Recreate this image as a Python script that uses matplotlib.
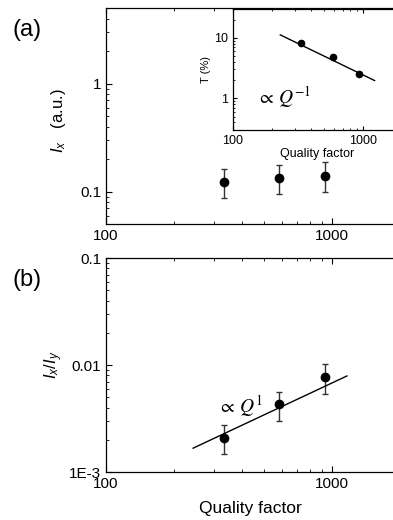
import matplotlib
matplotlib.use('Agg')
import matplotlib.pyplot as plt
from matplotlib.ticker import FixedLocator, FixedFormatter, LogLocator, NullFormatter

plt.rcParams['font.family'] = ['Liberation Sans', 'DejaVu Sans']
plt.rcParams['mathtext.fontset'] = 'custom'
plt.rcParams['mathtext.rm'] = 'Liberation Sans'
plt.rcParams['mathtext.it'] = 'Liberation Sans:italic'

# data
quality = [333, 583, 930]
intensity_x = [0.124, 0.135, 0.14]
intensity_lo = [0.088, 0.096, 0.100]
intensity_hi = [0.163, 0.178, 0.186]

ratio = [0.00208, 0.00433, 0.0077]
ratio_lo = [0.00148, 0.0030, 0.0054]
ratio_hi = [0.00275, 0.0056, 0.0102]
fit_q = [243, 1165]
fit_ratio = [0.00167, 0.0079]

trans = [8.3, 4.9, 2.5]
fit_q_inset = [231, 1230]
fit_trans = [11.2, 1.97]


def style_log_axis(ax, fs, major_len=4, minor_len=2):
    ax.set_xscale('log')
    ax.set_yscale('log')
    ax.tick_params(which='both', direction='in', top=True, right=True, labelsize=fs)
    ax.tick_params(which='major', length=major_len, width=0.8)
    ax.tick_params(which='minor', length=minor_len, width=0.6)
    ax.xaxis.set_minor_locator(LogLocator(base=10, subs=range(2, 10)))
    ax.yaxis.set_minor_locator(LogLocator(base=10, subs=range(2, 10)))
    ax.xaxis.set_minor_formatter(NullFormatter())
    ax.yaxis.set_minor_formatter(NullFormatter())
    ax.xaxis.set_major_locator(FixedLocator([100, 1000]))
    ax.xaxis.set_major_formatter(FixedFormatter(['100', '1000']))
    for s in ax.spines.values():
        s.set_linewidth(0.9)


fig = plt.figure(figsize=(3.93, 5.2), dpi=100)

# panel (a)
ax1 = fig.add_axes([0.2697, 0.569, 0.748, 0.4154])
style_log_axis(ax1, 11)
ax1.set_xlim(100, 2000)
ax1.set_ylim(0.05, 5)
ax1.yaxis.set_major_locator(FixedLocator([0.1, 1]))
ax1.yaxis.set_major_formatter(FixedFormatter(['0.1', '1']))
err_a = [[v - lo for v, lo in zip(intensity_x, intensity_lo)],
         [hi - v for v, hi in zip(intensity_x, intensity_hi)]]
ax1.errorbar(quality, intensity_x, yerr=err_a, fmt='o', color='black', ms=6,
             ecolor='#333333', elinewidth=1.0, capsize=2.5, capthick=1.0)
ax1.set_ylabel(r'$I_x$   (a.u.)', fontsize=12)
ax1.yaxis.set_label_coords(-0.13, 0.48)

# inset
ax_in = fig.add_axes([0.593, 0.75, 0.43, 0.2327])
style_log_axis(ax_in, 9, major_len=3, minor_len=1.5)
ax_in.set_xlim(100, 2000)
ax_in.set_ylim(0.3, 30)
ax_in.yaxis.set_major_locator(FixedLocator([1, 10]))
ax_in.yaxis.set_major_formatter(FixedFormatter(['1', '10']))
ax_in.plot(quality, trans, 'o', color='black', ms=4.5)
ax_in.plot(fit_q_inset, fit_trans, '-', color='black', lw=1.0)
ax_in.set_xlabel('Quality factor', fontsize=9, labelpad=1)
ax_in.set_ylabel('T (%)', fontsize=8, labelpad=2)
ax_in.text(0.14, 0.27, r'$\propto\,Q^{-1}$', transform=ax_in.transAxes,
           fontsize=14, math_fontfamily='stix', va='center')

# panel (b)
ax2 = fig.add_axes([0.2697, 0.0923, 0.748, 0.4115])
style_log_axis(ax2, 11)
ax2.set_xlim(100, 2000)
ax2.set_ylim(1e-3, 0.1)
ax2.yaxis.set_major_locator(FixedLocator([1e-3, 0.01, 0.1]))
ax2.yaxis.set_major_formatter(FixedFormatter(['1E-3', '0.01', '0.1']))
err_b = [[v - lo for v, lo in zip(ratio, ratio_lo)],
         [hi - v for v, hi in zip(ratio, ratio_hi)]]
ax2.errorbar(quality, ratio, yerr=err_b, fmt='o', color='black', ms=6,
             ecolor='#333333', elinewidth=1.0, capsize=2.5, capthick=1.0)
ax2.plot(fit_q, fit_ratio, '-', color='black', lw=1.0)
ax2.text(0.38, 0.31, r'$\propto\,Q^{1}$', transform=ax2.transAxes,
         fontsize=14, math_fontfamily='stix', va='center')
ax2.set_ylabel(r'$I_x/I_y$', fontsize=12)
ax2.yaxis.set_label_coords(-0.14, 0.5)
ax2.set_xlabel('Quality factor', fontsize=12.5)
ax2.xaxis.set_label_coords(0.49, -0.135)

fig.text(0.033, 0.943, '(a)', fontsize=17, va='center')
fig.text(0.033, 0.462, '(b)', fontsize=17, va='center')

fig.savefig('out.png', dpi=100)
